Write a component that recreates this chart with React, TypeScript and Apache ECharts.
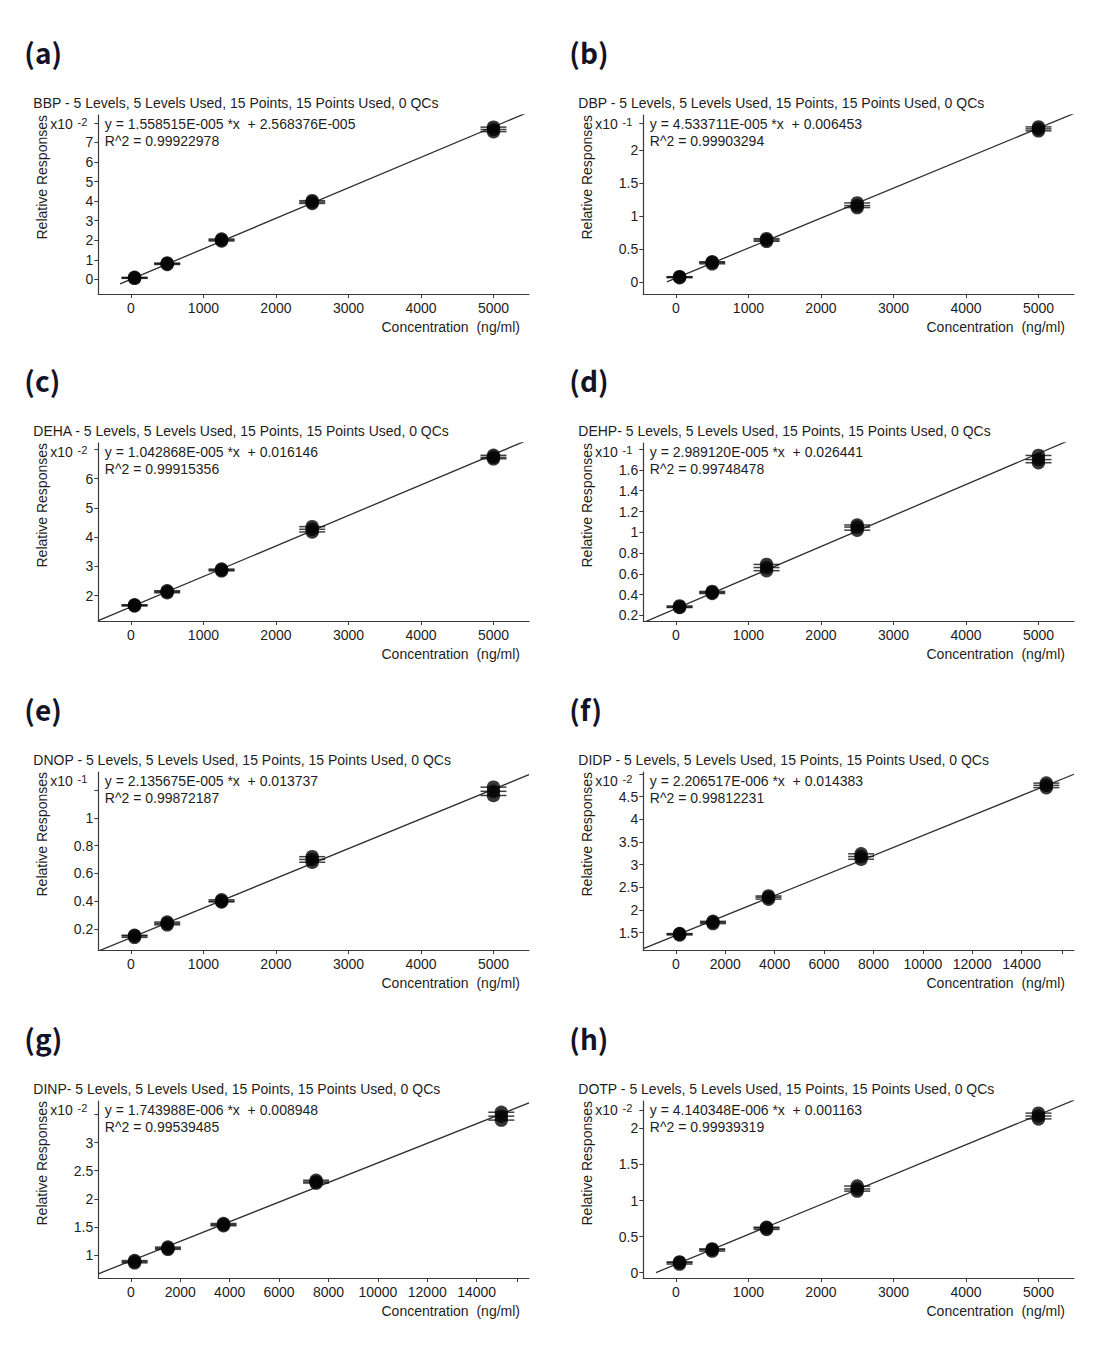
import React, { useEffect, useRef } from "react";
import * as echarts from "echarts";

// ---------------- data ----------------
const panelLetters = ["(a)", "(b)", "(c)", "(d)", "(e)", "(f)", "(g)", "(h)"];
const titleTexts = [
  "BBP - 5 Levels, 5 Levels Used, 15 Points, 15 Points Used, 0 QCs",
  "DBP - 5 Levels, 5 Levels Used, 15 Points, 15 Points Used, 0 QCs",
  "DEHA - 5 Levels, 5 Levels Used, 15 Points, 15 Points Used, 0 QCs",
  "DEHP- 5 Levels, 5 Levels Used, 15 Points, 15 Points Used, 0 QCs",
  "DNOP - 5 Levels, 5 Levels Used, 15 Points, 15 Points Used, 0 QCs",
  "DIDP - 5 Levels, 5 Levels Used, 15 Points, 15 Points Used, 0 QCs",
  "DINP- 5 Levels, 5 Levels Used, 15 Points, 15 Points Used, 0 QCs",
  "DOTP - 5 Levels, 5 Levels Used, 15 Points, 15 Points Used, 0 QCs",
];
const equationTexts = [
  "y = 1.558515E-005 *x  + 2.568376E-005",
  "y = 4.533711E-005 *x  + 0.006453",
  "y = 1.042868E-005 *x  + 0.016146",
  "y = 2.989120E-005 *x  + 0.026441",
  "y = 2.135675E-005 *x  + 0.013737",
  "y = 2.206517E-006 *x  + 0.014383",
  "y = 1.743988E-006 *x  + 0.008948",
  "y = 4.140348E-006 *x  + 0.001163",
];
const r2Texts = [
  "R^2 = 0.99922978",
  "R^2 = 0.99903294",
  "R^2 = 0.99915356",
  "R^2 = 0.99748478",
  "R^2 = 0.99872187",
  "R^2 = 0.99812231",
  "R^2 = 0.99539485",
  "R^2 = 0.99939319",
];
const slopes = [1.558515e-5, 4.533711e-5, 1.042868e-5, 2.98912e-5, 2.135675e-5, 2.206517e-6, 1.743988e-6, 4.140348e-6];
const intercepts = [2.568376e-5, 0.006453, 0.016146, 0.026441, 0.013737, 0.014383, 0.008948, 0.001163];
const exponents = [-2, -1, -2, -1, -1, -2, -2, -2];

const levelsLow = [50, 500, 1250, 2500, 5000];
const levelsHigh = [150, 1500, 3750, 7500, 15000];

// replicate relative responses (in units of x10^exponent), 3 per level
const bbpResponses = [[0.05, 0.08, 0.1], [0.76, 0.8, 0.83], [1.96, 2.01, 2.06], [3.88, 3.95, 4.02], [7.55, 7.66, 7.78]];
const dbpResponses = [[0.07, 0.08, 0.085], [0.28, 0.3, 0.31], [0.62, 0.64, 0.66], [1.13, 1.16, 1.2], [2.29, 2.32, 2.35]];
const dehaResponses = [[1.65, 1.67, 1.69], [2.1, 2.14, 2.17], [2.85, 2.88, 2.91], [4.18, 4.27, 4.36], [6.68, 6.73, 6.8]];
const dehpResponses = [[0.275, 0.28, 0.29], [0.41, 0.42, 0.43], [0.63, 0.66, 0.69], [1.02, 1.05, 1.07], [1.67, 1.7, 1.74]];
const dnopResponses = [[0.14, 0.15, 0.155], [0.23, 0.24, 0.25], [0.395, 0.4, 0.41], [0.68, 0.7, 0.72], [1.16, 1.19, 1.22]];
const didpResponses = [[1.45, 1.47, 1.48], [1.7, 1.73, 1.75], [2.24, 2.28, 2.31], [3.12, 3.18, 3.24], [4.7, 4.75, 4.8]];
const dinpResponses = [[0.86, 0.88, 0.9], [1.1, 1.12, 1.14], [1.52, 1.54, 1.56], [2.28, 2.3, 2.33], [3.4, 3.47, 3.54]];
const dotpResponses = [[0.12, 0.14, 0.15], [0.3, 0.32, 0.33], [0.6, 0.62, 0.63], [1.13, 1.16, 1.2], [2.13, 2.17, 2.21]];

const panelResponses = [bbpResponses, dbpResponses, dehaResponses, dehpResponses, dnopResponses, didpResponses, dinpResponses, dotpResponses];
const panelLevels = [levelsLow, levelsLow, levelsLow, levelsLow, levelsLow, levelsHigh, levelsHigh, levelsLow];

const xLabelsLow = [0, 1000, 2000, 3000, 4000, 5000];
const xLabelsHigh = [0, 2000, 4000, 6000, 8000, 10000, 12000, 14000];
const xTicksHigh = [0, 2000, 4000, 6000, 8000, 10000, 12000, 14000, 15660];
const xRangeLow = [-450, 5490];
const xRangeHigh = [-1320, 16120];

const yRanges = [[-0.75, 8.4], [-0.177, 2.53], [1.135, 7.22], [0.145, 1.86], [0.049, 1.329], [1.118, 5.045], [0.59, 3.74], [-0.073, 2.378]];
const yLabelValues = [
  [0, 1, 2, 3, 4, 5, 6, 7],
  [0, 0.5, 1, 1.5, 2],
  [2, 3, 4, 5, 6],
  [0.2, 0.4, 0.6, 0.8, 1, 1.2, 1.4, 1.6],
  [0.2, 0.4, 0.6, 0.8, 1],
  [1.5, 2, 2.5, 3, 3.5, 4, 4.5],
  [1, 1.5, 2, 2.5, 3],
  [0, 0.5, 1, 1.5, 2],
];
const yTopTicks = [8, 2.41, 7, 1.8, 1.2, 5, 3.5, 2.25];
const lineStarts = [-150, -125, -450, -450, -450, -1320, -1320, -275];

// ---------------- layout ----------------
const colLeft = [98.3, 643.3];
const gridWidth = 430.7;
const rowTop = [115, 443, 772, 1101];
const rowBottom = [294, 621, 950, 1278];
const FONT = '"Liberation Sans", Arial, sans-serif';
const TXT = "#1e1e1e";

function fmt(v: number) {
  return String(Math.round(v * 1000) / 1000);
}

function buildOption() {
  const grids: any[] = [];
  const xAxes: any[] = [];
  const yAxes: any[] = [];
  const series: any[] = [];
  const graphics: any[] = [];

  for (let i = 0; i < 8; i++) {
    const col = i % 2;
    const row = Math.floor(i / 2);
    const left = colLeft[col];
    const top = rowTop[row];
    const bottom = rowBottom[row];
    const isHigh = panelLevels[i] === levelsHigh;
    const xr = isHigh ? xRangeHigh : xRangeLow;
    const scale = Math.pow(10, exponents[i]);

    grids.push({ left, top, width: gridWidth, height: bottom - top });

    xAxes.push({
      type: "value",
      gridIndex: i,
      min: xr[0],
      max: xr[1],
      axisLine: { show: true, onZero: false, lineStyle: { color: "#3a3a3a", width: 1.2 } },
      axisTick: { show: true, length: 4, lineStyle: { color: "#3a3a3a" }, customValues: isHigh ? xTicksHigh : xLabelsLow },
      axisLabel: {
        show: true,
        margin: 7,
        fontSize: 14,
        fontFamily: FONT,
        color: TXT,
        customValues: isHigh ? xLabelsHigh : xLabelsLow,
        formatter: (v: number) => fmt(v),
      },
      splitLine: { show: false },
    });

    yAxes.push({
      type: "value",
      gridIndex: i,
      min: yRanges[i][0],
      max: yRanges[i][1],
      axisLine: { show: true, onZero: false, lineStyle: { color: "#3a3a3a", width: 1.2 } },
      axisTick: { show: true, length: 4, lineStyle: { color: "#3a3a3a" }, customValues: [...yLabelValues[i], yTopTicks[i]] },
      axisLabel: {
        show: true,
        margin: 5,
        fontSize: 14,
        fontFamily: FONT,
        color: TXT,
        customValues: yLabelValues[i],
        formatter: (v: number) => fmt(v),
      },
      splitLine: { show: false },
    });

    // regression line
    const lineXs = [lineStarts[i], xr[1]];
    series.push({
      type: "line",
      xAxisIndex: i,
      yAxisIndex: i,
      data: lineXs.map((x) => [x, (slopes[i] * x + intercepts[i]) / scale]),
      symbol: "none",
      showSymbol: false,
      clip: true,
      silent: true,
      lineStyle: { color: "#2e2e2e", width: 1.3 },
      z: 2,
    });

    const pts: number[][] = [];
    panelLevels[i].forEach((lv, k) => {
      panelResponses[i][k].forEach((v) => pts.push([lv, v]));
    });

    series.push({
      type: "scatter",
      xAxisIndex: i,
      yAxisIndex: i,
      data: pts,
      symbol: "rect",
      symbolSize: [26, 1.5],
      itemStyle: { color: "#111" },
      silent: true,
      z: 3,
    });
    series.push({
      type: "scatter",
      xAxisIndex: i,
      yAxisIndex: i,
      data: pts,
      symbol: "circle",
      symbolSize: 13.5,
      itemStyle: { color: "#050505" },
      silent: true,
      z: 4,
    });

    // texts
    const txt = (text: string, x: number, y: number, extra: any = {}) => ({
      type: "text",
      x,
      y,
      silent: true,
      ...extra.el,
      style: {
        text,
        fill: extra.fill || TXT,
        fontSize: extra.fontSize || 14,
        fontFamily: extra.fontFamily || FONT,
        fontWeight: extra.fontWeight || "normal",
        align: extra.align || "left",
        textAlign: extra.align || "left",
        verticalAlign: "middle",
        textVerticalAlign: "middle",
      },
    });

    graphics.push(
      txt(panelLetters[i], left - 74, top - 63, {
        fontSize: 28,
        fontWeight: "bold",
        fontFamily: '"Noto Sans CJK KR", "Noto Sans", sans-serif',
        fill: "#121326",
      })
    );
    graphics.push(txt(titleTexts[i], left - 65, top - 12));
    graphics.push(txt(equationTexts[i], left + 6.5, top + 9));
    graphics.push(txt(r2Texts[i], left + 6.5, top + 26));
    graphics.push(txt("x10", left - 25.5, top + 9, { align: "right" }));
    graphics.push(txt(String(exponents[i]), left - 11, top + 7, { align: "right", fontSize: 11 }));
    graphics.push(txt("Relative Responses", left - 56.6, top, { align: "right", el: { rotation: Math.PI / 2 } }));
    graphics.push(txt("Concentration  (ng/ml)", left + gridWidth - 9, bottom + 33, { align: "right" }));
  }

  return {
    animation: false,
    backgroundColor: "#ffffff",
    textStyle: { fontFamily: FONT },
    grid: grids,
    xAxis: xAxes,
    yAxis: yAxes,
    series,
    graphic: { elements: graphics },
  };
}

export default function App() {
  const ref = useRef<HTMLDivElement>(null);
  useEffect(() => {
    document.body.style.margin = "0";
    if (!ref.current) return;
    const chart = echarts.init(ref.current, undefined, { renderer: "svg" });
    chart.setOption(buildOption() as any);
    return () => chart.dispose();
  }, []);
  return <div ref={ref} style={{ width: 1093, height: 1349, background: "#fff" }} />;
}
